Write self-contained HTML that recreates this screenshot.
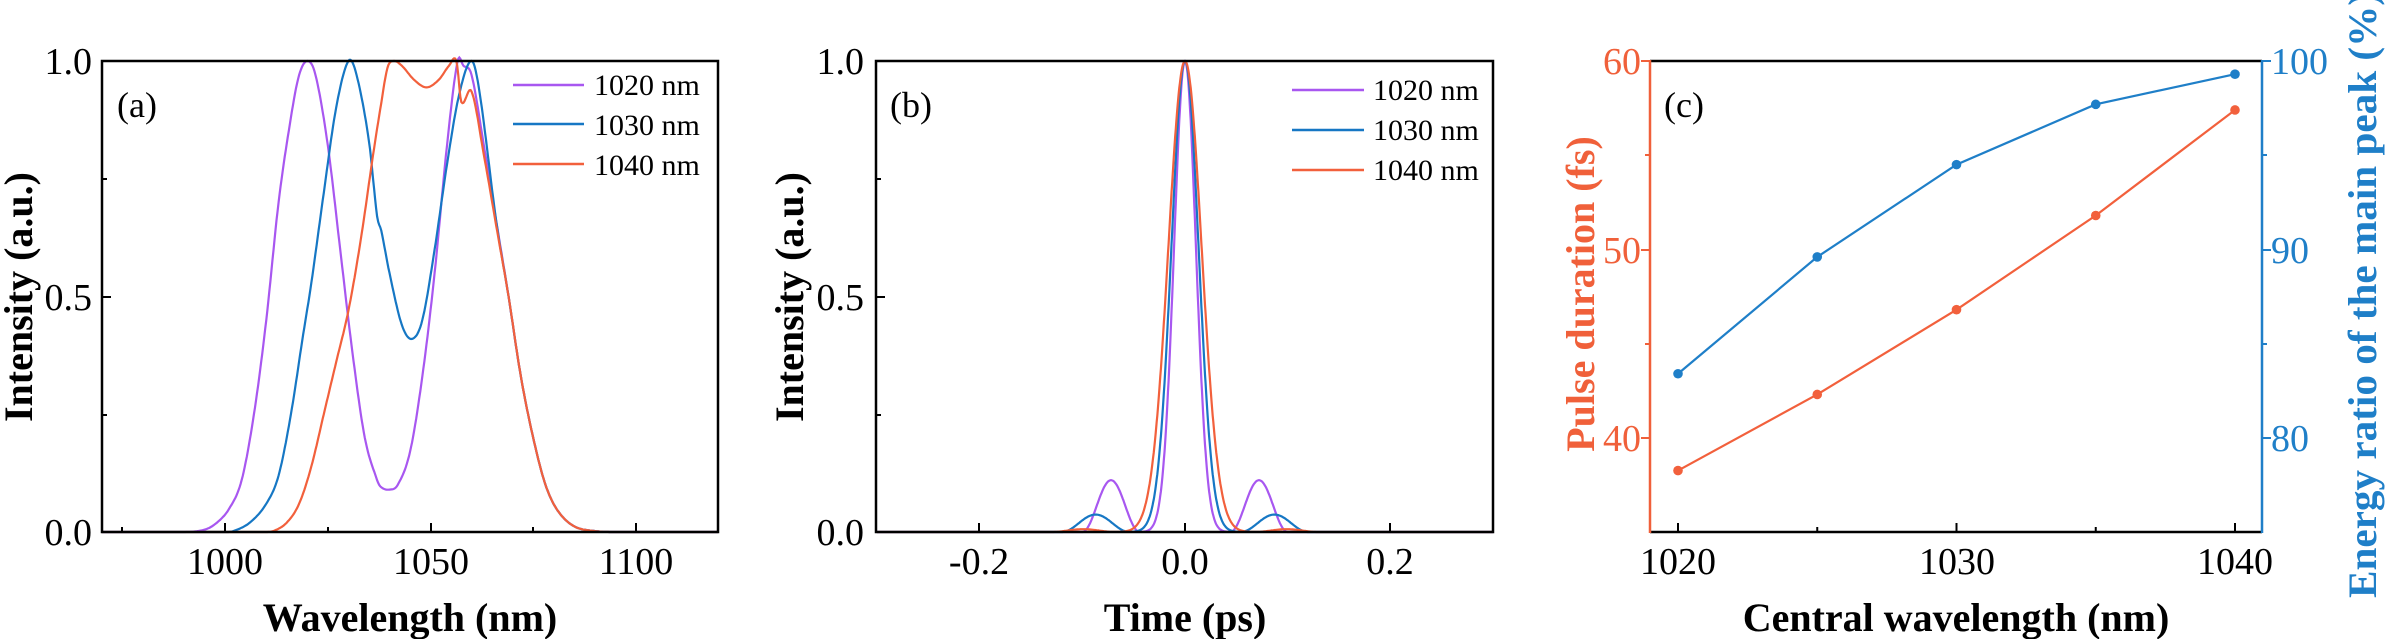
<!DOCTYPE html>
<html><head><meta charset="utf-8"><style>
html,body{margin:0;padding:0;background:#fff;}
svg{display:block;font-family:"Liberation Serif",serif;}
</style></head><body>
<svg id="s" width="2385" height="639" viewBox="0 0 2385 639" xmlns="http://www.w3.org/2000/svg">
<rect width="2385" height="639" fill="#fff"/>
<g id="plots"></g>
<g font-size="38" fill="#000">
<text x="92" y="74" text-anchor="end">1.0</text>
<text x="92" y="310" text-anchor="end">0.5</text>
<text x="92" y="545" text-anchor="end">0.0</text>
<text x="225" y="574" text-anchor="middle">1000</text>
<text x="431" y="574" text-anchor="middle">1050</text>
<text x="636" y="574" text-anchor="middle">1100</text>
<text x="864" y="74" text-anchor="end">1.0</text>
<text x="864" y="310" text-anchor="end">0.5</text>
<text x="864" y="545" text-anchor="end">0.0</text>
<text x="979" y="574" text-anchor="middle">-0.2</text>
<text x="1185" y="574" text-anchor="middle">0.0</text>
<text x="1390" y="574" text-anchor="middle">0.2</text>
<text x="1678" y="574" text-anchor="middle">1020</text>
<text x="1957" y="574" text-anchor="middle">1030</text>
<text x="2235" y="574" text-anchor="middle">1040</text>
</g>
<g font-size="38" fill="#f0603a">
<text x="1641" y="74" text-anchor="end">60</text>
<text x="1641" y="263" text-anchor="end">50</text>
<text x="1641" y="451" text-anchor="end">40</text>
</g>
<g font-size="38" fill="#1f7fc8">
<text x="2271" y="74">100</text>
<text x="2271" y="263">90</text>
<text x="2271" y="451">80</text>
</g>
<g font-size="36" fill="#000">
<text x="117" y="117">(a)</text>
<text x="890" y="117">(b)</text>
<text x="1664" y="117">(c)</text>
</g>
<g font-size="30" fill="#000">
<text x="594" y="95">1020 nm</text>
<text x="594" y="135">1030 nm</text>
<text x="594" y="175">1040 nm</text>
<text x="1373" y="100">1020 nm</text>
<text x="1373" y="140">1030 nm</text>
<text x="1373" y="180">1040 nm</text>
</g>
<g font-size="40" font-weight="bold" fill="#000">
<text x="410" y="631" text-anchor="middle">Wavelength (nm)</text>
<text x="1185" y="631" text-anchor="middle">Time (ps)</text>
<text x="1956" y="631" text-anchor="middle">Central wavelength (nm)</text>
<text transform="translate(32,297) rotate(-90)" text-anchor="middle">Intensity (a.u.)</text>
<text transform="translate(803,297) rotate(-90)" text-anchor="middle">Intensity (a.u.)</text>
<text transform="translate(1594,294) rotate(-90)" text-anchor="middle" fill="#f0603a">Pulse duration (fs)</text>
<text transform="translate(2376,295) rotate(-90)" text-anchor="middle" fill="#1f7fc8" textLength="606" lengthAdjust="spacingAndGlyphs">Energy ratio of the main peak (%)</text>
</g>
</svg>
<script>
var NS="http://www.w3.org/2000/svg",G=document.getElementById("plots");
function el(t,a){var e=document.createElementNS(NS,t);for(var k in a)e.setAttribute(k,a[k]);G.appendChild(e);return e;}
var P="#a857f0",B="#1677c4",O="#f2603c";
function interp(pts,x){
 if(x<=pts[0][0])return pts[0][1]; var n=pts.length; if(x>=pts[n-1][0])return pts[n-1][1];
 var i=0; while(pts[i+1][0]<x)i++;
 var p0=pts[Math.max(i-1,0)],p1=pts[i],p2=pts[i+1],p3=pts[Math.min(i+2,n-1)];
 var t=(x-p1[0])/(p2[0]-p1[0]);
 var m1=(p2[1]-p0[1])/(p2[0]-p0[0])*(p2[0]-p1[0]), m2=(p3[1]-p1[1])/(p3[0]-p1[0])*(p2[0]-p1[0]);
 var t2=t*t,t3=t2*t;
 return (2*t3-3*t2+1)*p1[1]+(t3-2*t2+t)*m1+(-2*t3+3*t2)*p2[1]+(t3-t2)*m2;
}
var right=[[1060,0.97],[1063,0.82],[1066,0.66],[1069,0.5],[1072,0.33],[1075,0.2],[1078,0.1],[1081,0.045],[1085,0.012],[1090,0.002],[1095,0],[1120,0]];
var sp={
 p:[[970,0],[990,0],[995,0.005],[998,0.02],[1001,0.05],[1004,0.11],[1007,0.25],[1010,0.45],[1013,0.7],[1016,0.88],[1018,0.97],[1020,1.0],[1022,0.97],[1025,0.82],[1028,0.6],[1031,0.38],[1034,0.2],[1037,0.11],[1038,0.095],[1040,0.09],[1042,0.1],[1045,0.17],[1048,0.33],[1051,0.55],[1054,0.82],[1056.6,1.0],[1058,0.99]].concat(right),
 b:[[970,0],[1000,0],[1002,0.002],[1006,0.02],[1010,0.06],[1013,0.12],[1016,0.25],[1019,0.42],[1021,0.53],[1024,0.72],[1027,0.9],[1030,1.0],[1032,0.97],[1035,0.83],[1037,0.67],[1038,0.64],[1040,0.55],[1043,0.44],[1045.5,0.41],[1048,0.45],[1051,0.6],[1054,0.78],[1057,0.93],[1060,1.0],[1062,0.93]].concat(right.slice(2)),
 o:[[970,0],[1010,0],[1012,0.003],[1015,0.02],[1018,0.06],[1021,0.14],[1024,0.25],[1027,0.36],[1030,0.47],[1033,0.62],[1036,0.8],[1037.8,0.9],[1039.5,0.985],[1041,1.0],[1043,0.99],[1046,0.96],[1049,0.944],[1052,0.96],[1054.5,0.99],[1056.3,1.0],[1057.5,0.913],[1060,0.935],[1063,0.8],[1066,0.65]].concat(right.slice(3))
};
function ax(x){return 102+(x-970)*616/150;}
function ay(v){return 532-v*471;}
function pathA(pts){var d="";for(var x=970;x<=1120;x+=0.25){var v=Math.max(0,interp(pts,x));d+=(d?"L":"M")+ax(x).toFixed(1)+","+ay(v).toFixed(1);}return d;}
el("path",{d:pathA(sp.p),fill:"none",stroke:P,"stroke-width":2.2});
el("path",{d:pathA(sp.b),fill:"none",stroke:B,"stroke-width":2.2});
el("path",{d:pathA(sp.o),fill:"none",stroke:O,"stroke-width":2.2});
function bx(t){return 1185+t*1027.5;}
function pulse(t,h,a,b,A){var at=Math.abs(t);var v=Math.exp(-0.693*(t/h)*(t/h));if(at>a&&at<b){var s=Math.sin(Math.PI*(at-a)/(b-a));v+=A*s*s;}return v;}
function pathB(h,a,b,A){var d="";for(var t=-0.3;t<=0.3001;t+=0.0005){d+=(d?"L":"M")+bx(t).toFixed(1)+","+ay(pulse(t,h,a,b,A)).toFixed(1);}return d;}
el("path",{d:pathB(0.0125,0.044,0.1,0.11),fill:"none",stroke:P,"stroke-width":2.2});
el("path",{d:pathB(0.0155,0.054,0.12,0.037),fill:"none",stroke:B,"stroke-width":2.2});
el("path",{d:pathB(0.019,0.068,0.13,0.006),fill:"none",stroke:O,"stroke-width":2.2});
function frame(x0,x1,xt,xm){
 el("rect",{x:x0,y:61,width:x1-x0,height:471,fill:"none",stroke:"#000","stroke-width":2.5});
 xt.forEach(function(x){el("line",{x1:x,y1:532,x2:x,y2:523,stroke:"#000","stroke-width":2});});
 xm.forEach(function(x){el("line",{x1:x,y1:532,x2:x,y2:527,stroke:"#000","stroke-width":2});});
 [297].forEach(function(y){el("line",{x1:x0,y1:y,x2:x0+9,y2:y,stroke:"#000","stroke-width":2});});
 [179,415].forEach(function(y){el("line",{x1:x0,y1:y,x2:x0+5,y2:y,stroke:"#000","stroke-width":2});});
}
frame(102,718,[225,431,636],[122,328,533]);
frame(876,1493,[979,1185,1390],[]);
[[513,584,85,124,164],[1292,1364,90,130,170]].forEach(function(L){
 [[P,L[2]],[B,L[3]],[O,L[4]]].forEach(function(c){el("line",{x1:L[0],y1:c[1],x2:L[1],y2:c[1],stroke:c[0],"stroke-width":2.5});});
});
var cx=function(w){return 1678+(w-1020)*27.85;};
var cyL=function(v){return 532-(v-35)*18.84;};
var cyR=function(v){return 532-(v-75)*18.84;};
el("line",{x1:1650,y1:61,x2:2262,y2:61,stroke:"#000","stroke-width":2.5});
el("line",{x1:1650,y1:532,x2:2262,y2:532,stroke:"#000","stroke-width":2.5});
el("line",{x1:1650,y1:60,x2:1650,y2:533,stroke:"#f0603a","stroke-width":2.5});
el("line",{x1:2262,y1:60,x2:2262,y2:533,stroke:"#1f7fc8","stroke-width":2.5});
[1020,1025,1030,1035,1040].forEach(function(w,i){el("line",{x1:cx(w),y1:532,x2:cx(w),y2:i%2?527:523,stroke:"#000","stroke-width":2});});
[[61,9],[155,5],[250,9],[344,5],[438,9]].forEach(function(t){
 el("line",{x1:1650,y1:t[0],x2:1650-t[1],y2:t[0],stroke:"#f0603a","stroke-width":2});
 el("line",{x1:2262,y1:t[0],x2:2262+t[1],y2:t[0],stroke:"#1f7fc8","stroke-width":2});
});
var ws=[1020,1025,1030,1035,1040],po=[38.26,42.3,46.8,51.8,57.4],pb=[83.4,89.6,94.5,97.7,99.3];
function series(vals,f,col){var d="";ws.forEach(function(w,i){d+=(i?"L":"M")+cx(w)+","+f(vals[i]);});el("path",{d:d,fill:"none",stroke:col,"stroke-width":2.2});ws.forEach(function(w,i){el("circle",{cx:cx(w),cy:f(vals[i]),r:4.8,fill:col});});}
series(po,cyL,O);series(pb,cyR,"#1f7fc8");
</script>
</body></html>
